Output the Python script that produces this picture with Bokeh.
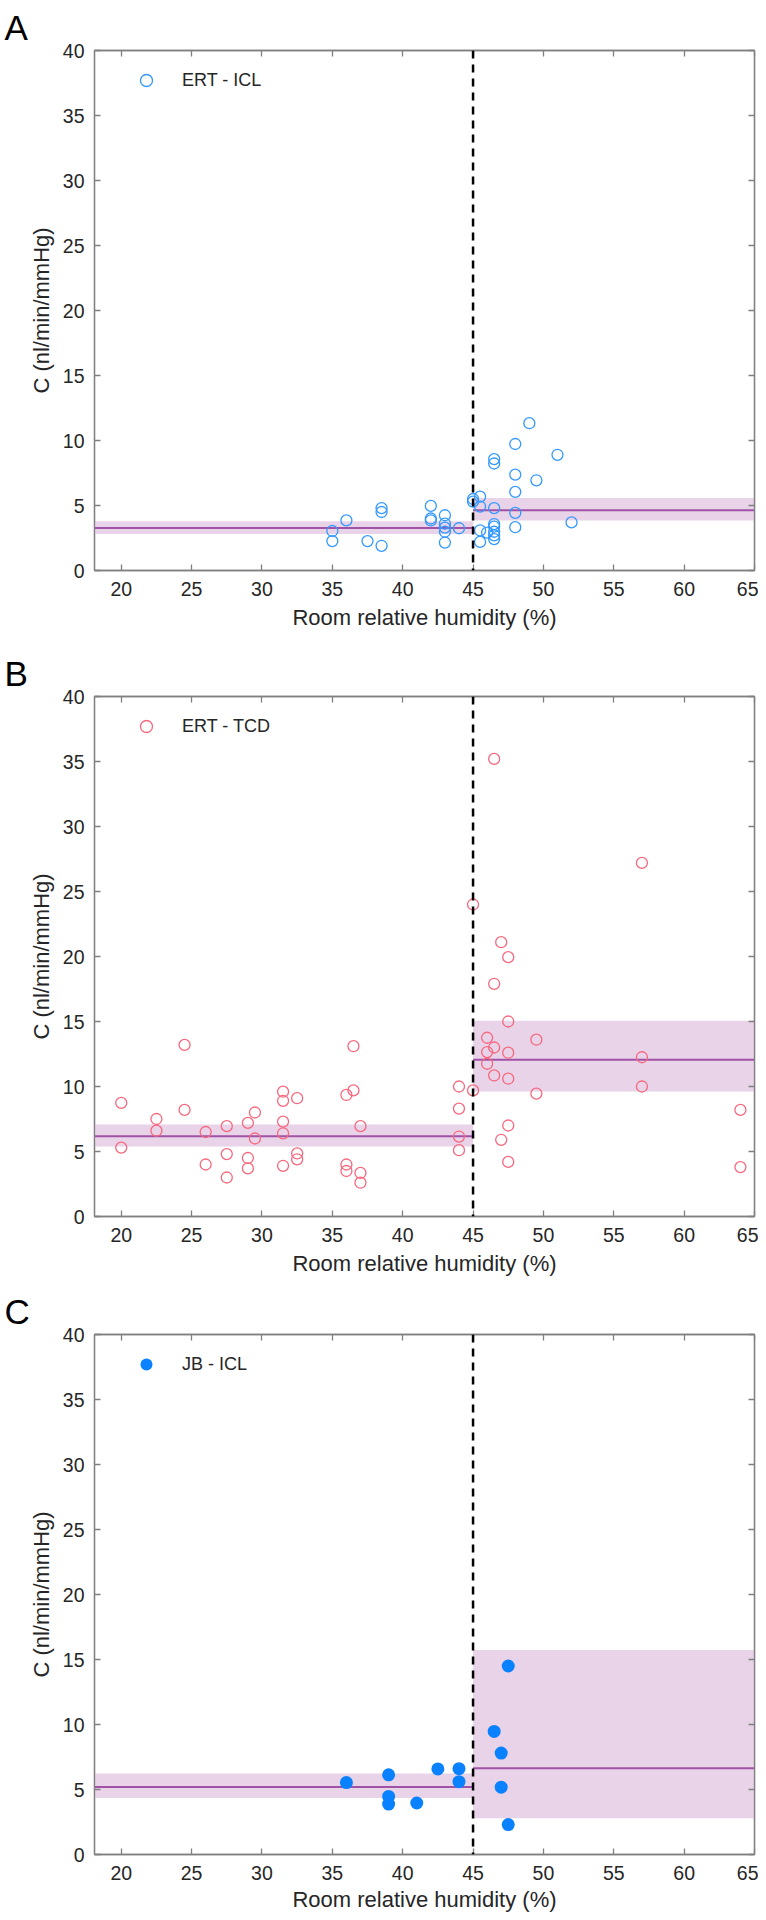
from bokeh.plotting import figure
from bokeh.models import Range1d, LinearAxis, FixedTicker, Span
from bokeh.layouts import column
from bokeh.embed import file_html
from bokeh.resources import INLINE

# ---------------- data ----------------
X_TICKS = [20, 25, 30, 35, 40, 45, 50, 55, 60, 65]
Y_TICKS = [0, 5, 10, 15, 20, 25, 30, 35, 40]
X_LIMITS = [18.1, 65]
Y_LIMITS = [0, 40]
THRESHOLD = 45
X_LABEL = "Room relative humidity (%)"
Y_LABEL = "C (nl/min/mmHg)"

seg_start = [18.1, 45]
seg_end = [45, 65]

# Panel A: ERT - ICL
a_x = [35, 35, 36, 37.5, 38.5, 38.5, 38.5, 42, 42, 42, 43, 43, 43, 43, 43, 44,
       45, 45, 45.5, 45.5, 45.5, 45.5, 46, 46.5, 46.5, 46.5, 46.5, 46.5, 46.5,
       46.5, 46.5, 48, 48, 48, 48, 48, 49, 49.5, 51, 52]
a_y = [3.04, 2.26, 3.86, 2.26, 4.8, 4.5, 1.9, 4.97, 4.0, 3.85, 4.25, 3.6, 3.3,
       2.98, 2.15, 3.25, 5.5, 5.3, 5.68, 4.92, 3.08, 2.2, 2.92, 8.57, 8.23, 4.8,
       3.57, 3.38, 2.98, 2.7, 2.42, 9.73, 7.37, 6.05, 4.43, 3.33, 11.33, 6.94,
       8.9, 3.7]
a_mean = [3.27, 4.63]
a_lo = [2.80, 3.84]
a_hi = [3.78, 5.57]

# Panel B: ERT - TCD
b_x = [20, 20, 22.5, 22.5, 24.5, 24.5, 26, 26, 27.5, 27.5, 27.5, 29, 29, 29,
       29.5, 29.5, 31.5, 31.5, 31.5, 31.5, 31.5, 32.5, 32.5, 32.5, 36, 36, 36,
       36.5, 36.5, 37, 37, 37, 44, 44, 44, 44, 45, 45, 46.5, 47, 47.5, 46.5,
       47.5, 46, 46.5, 46, 47.5, 46, 46.5, 47.5, 49.5, 49.5, 47.5, 47, 47.5,
       57, 57, 57, 64, 64]
b_y = [8.74, 5.3, 7.5, 6.6, 13.2, 8.2, 6.5, 4.0, 6.95, 4.8, 3.0, 7.2, 4.5, 3.7,
       8.0, 6.0, 9.6, 8.9, 7.3, 6.4, 3.9, 9.1, 4.85, 4.4, 9.35, 4.0, 3.5, 13.1,
       9.7, 6.95, 3.35, 2.6, 10.0, 8.3, 6.15, 5.1, 9.7, 24.0, 35.2, 21.1, 19.95,
       17.9, 15.0, 13.75, 13.0, 12.65, 12.6, 11.75, 10.85, 10.6, 13.6, 9.45,
       7.0, 5.9, 4.2, 27.2, 12.25, 10.0, 8.2, 3.8]
b_mean = [6.17, 12.06]
b_lo = [5.39, 9.61]
b_hi = [7.08, 15.06]

# Panel C: JB - ICL
c_x = [36, 39, 39, 39, 41, 42.5, 44, 44, 46.5, 47, 47, 47.5, 47.5]
c_y = [5.53, 6.13, 4.47, 3.88, 3.96, 6.58, 6.6, 5.6, 9.47, 7.8, 5.18, 14.5, 2.3]
c_mean = [5.2, 6.64]
c_lo = [4.34, 2.78]
c_hi = [6.24, 15.73]

# ---------------- style ----------------
FONT = "Liberation Sans"
AXIS_COLOR = "#808080"
TEXT_COLOR = "#262626"
BAND_COLOR = "#e8d3e8"
MEAN_COLOR = "#a052a6"


def style_axis(ax, ticks, show_labels, tick_standoff=11, label_standoff=5):
    ax.ticker = FixedTicker(ticks=ticks)
    ax.minor_tick_line_color = None
    ax.major_tick_in = 6
    ax.major_tick_out = 0
    ax.major_tick_line_color = AXIS_COLOR
    ax.major_tick_line_width = 1.3
    ax.axis_line_color = AXIS_COLOR
    ax.axis_line_width = 1.3
    if show_labels:
        ax.major_label_text_font = FONT
        ax.major_label_text_font_size = "19.5px"
        ax.major_label_text_color = TEXT_COLOR
        ax.major_label_standoff = tick_standoff
        ax.axis_label_text_font = FONT
        ax.axis_label_text_font_size = "22px"
        ax.axis_label_text_font_style = "normal"
        ax.axis_label_text_color = TEXT_COLOR
        ax.axis_label_standoff = label_standoff
    else:
        ax.major_label_text_font_size = "0px"
        ax.major_label_text_color = None
        ax.major_label_standoff = 0


def make_panel(letter, xs, ys, means, los, his, label, color, filled,
               height, border_top, border_bottom,
               tick_standoff, label_standoff):
    p = figure(width=758, height=height,
               x_range=Range1d(X_LIMITS[0], X_LIMITS[1]),
               y_range=Range1d(Y_LIMITS[0], Y_LIMITS[1]),
               output_backend="svg", toolbar_location=None,
               min_border_left=94, min_border_right=4,
               min_border_top=border_top, min_border_bottom=border_bottom,
               title=letter)
    p.title.text_font = FONT
    p.title.text_font_size = "35px"
    p.title.text_font_style = "normal"
    p.title.text_color = "black"
    p.title.align = "left"
    p.title.offset = -90
    p.title.standoff = 8

    p.xgrid.grid_line_color = None
    p.ygrid.grid_line_color = None
    p.outline_line_color = AXIS_COLOR
    p.outline_line_width = 1.3
    p.background_fill_color = "white"
    p.border_fill_color = "white"

    p.quad(left=seg_start, right=seg_end, bottom=los, top=his,
           fill_color=BAND_COLOR, line_color=None)
    p.segment(x0=seg_start, x1=seg_end, y0=means, y1=means,
              line_color=MEAN_COLOR, line_width=2)
    if filled:
        p.scatter(xs, ys, marker="circle", size=13, fill_color=color,
                  line_color=None, legend_label=label)
    else:
        p.scatter(xs, ys, marker="circle", size=11, fill_color=None,
                  line_color=color, line_width=1.3, legend_label=label)
    p.add_layout(Span(location=THRESHOLD, dimension="height",
                      line_color="black", line_width=2.5, line_dash="8 6"))

    style_axis(p.xaxis[0], X_TICKS, True, tick_standoff, label_standoff)
    style_axis(p.yaxis[0], Y_TICKS, True, 10, 6)
    p.xaxis[0].axis_label = X_LABEL
    p.yaxis[0].axis_label = Y_LABEL

    top = LinearAxis()
    style_axis(top, X_TICKS, False)
    p.add_layout(top, "above")
    right = LinearAxis()
    style_axis(right, Y_TICKS, False)
    p.add_layout(right, "right")

    lg = p.legend[0]
    lg.location = (37, 475)
    lg.padding = 0
    lg.margin = 0
    lg.spacing = 0
    lg.glyph_width = 30
    lg.glyph_height = 30
    lg.label_standoff = 21
    lg.label_text_font = FONT
    lg.label_text_font_size = "18px"
    lg.label_text_color = TEXT_COLOR
    lg.background_fill_alpha = 0
    lg.border_line_alpha = 0
    return p


pa = make_panel("A", a_x, a_y, a_mean, a_lo, a_hi, "ERT - ICL", "#3399ff", False,
                640, 50, 70, 11, 6)
pb = make_panel("B", b_x, b_y, b_mean, b_lo, b_hi, "ERT - TCD", "#f7687f", False,
                640, 56, 64, 11, 6)
pc = make_panel("C", c_x, c_y, c_mean, c_lo, c_hi, "JB - ICL", "#0a82ff", True,
                636, 54, 62, 11, 4)

layout = column(pa, pb, pc, spacing=0)
open("out.html", "w").write(file_html(layout, INLINE))
